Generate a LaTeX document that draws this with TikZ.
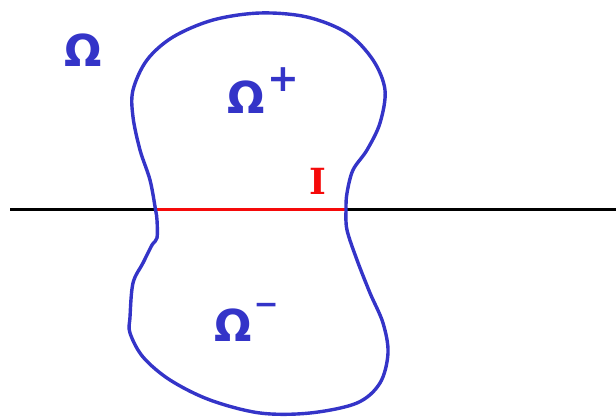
\documentclass[tikz,border=0pt]{standalone}
\usepackage{fontspec}
\setmainfont{DejaVu Sans}
\newfontfamily\serifI{DejaVu Serif}
\definecolor{penblue}{RGB}{52,52,200}
\definecolor{penred}{RGB}{245,10,10}
\tikzset{
  blobline/.style={draw=penblue, line width=3.4pt, line join=round},
  axisline/.style={draw=black, line width=3.2pt},
  intline/.style={draw=penred, line width=3.2pt},
  omlabel/.style={text=penblue, inner sep=0pt, font=\bfseries\fontsize{44}{44}\selectfont},
}
\begin{document}
\begin{tikzpicture}[x=1pt,y=-1pt]
\useasboundingbox (0,0) rectangle (616,417);
\coordinate (L) at (10,209.5);
\coordinate (R) at (616,209.5);
\coordinate (A) at (155.5,209.5);
\coordinate (B) at (346,209.5);
\draw[axisline] (L) -- (R);
\draw[intline] (A) -- (B);
\draw[blobline] plot[smooth cycle, tension=0.55] coordinates {
(155.5,209.5) (150,180) (140,150) (133,117) (133,90) (147,60) (173,37) (213,20)
(260,13) (307,17) (347,33) (373,60) (385,90) (380,123) (367,150) (353,170)
(347,193) (346,209.5) (347,230) (357,260) (370,293) (383,323) (388,353) (380,383)
(357,403) (310,413) (260,413) (210,400) (170,380) (143,357) (130,333) (130,317)
(133,283) (143,263) (152,245) (157,238) (157,220)};
\node[omlabel] (om) at (83,50) {Ω};
\node[omlabel, anchor=base west] (omp) at (227,114) {Ω\hspace{3pt}\raisebox{0.5em}{\fontsize{38}{38}\selectfont +}};
\node[omlabel, anchor=base west] (omm) at (214,341) {Ω\hspace{2pt}\raisebox{0.6em}{\fontsize{30}{30}\selectfont −}};
\node[text=penred, inner sep=0pt, font=\serifI\bfseries\fontsize{36}{36}\selectfont] (I) at (318,181) {I};
\end{tikzpicture}
\end{document}
